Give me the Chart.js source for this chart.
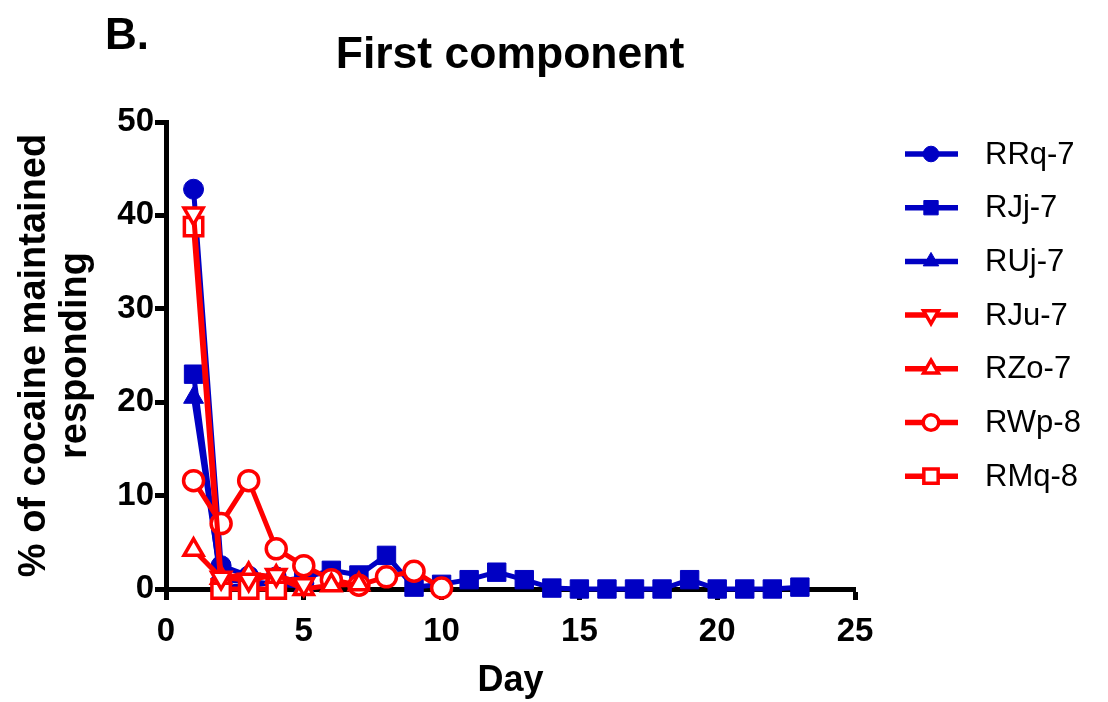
<!DOCTYPE html>
<html>
<head>
<meta charset="utf-8">
<script src="https://cdn.jsdelivr.net/npm/chart.js@4/dist/chart.umd.min.js"></script>
<style>
  html, body { margin: 0; padding: 0; background: #fff; }
  #wrap { width: 1108px; height: 702px; }
</style>
</head>
<body>
<div id="wrap"><canvas id="chart" width="1108" height="702"></canvas></div>
<script>
// 每只动物每天的可卡因维持反应百分比
const labels = ["RRq-7", "RJj-7", "RUj-7", "RJu-7", "RZo-7", "RWp-8", "RMq-8"];

const daysRRq = [1, 2, 3, 4, 5];
const valsRRq = [42.8, 2.5, 1.4, 1.3, 0.6];

const daysRJj = [1, 2, 3, 4, 5, 6, 7, 8, 9, 10, 11, 12, 13, 14, 15, 16, 17, 18, 19, 20, 21, 22, 23];
const valsRJj = [23.0, 0.3, 0.3, 0.8, 1.2, 2.0, 1.5, 3.6, 0.2, 0.5, 1.0, 1.8, 1.0, 0.1, 0, 0, 0, 0, 1.0, 0, 0, 0, 0.2];

const daysRUj = [1, 2, 3, 4, 5];
const valsRUj = [20.5, 1.0, 0.8, 0.5, 0.3];

const daysRJu = [1, 2, 3, 4, 5];
const valsRJu = [40.2, 1.2, 1.0, 1.5, 0.5];

const daysRZo = [1, 2, 3, 4, 5, 6, 7];
const valsRZo = [4.2, 1.2, 1.6, 1.3, 0, 0.4, 0.5];

const daysRWp = [1, 2, 3, 4, 5, 6, 7, 8, 9, 10];
const valsRWp = [11.6, 7.0, 11.6, 4.3, 2.5, 1.0, 0.4, 1.3, 1.9, 0.1];

const daysRMq = [1, 2, 3, 4];
const valsRMq = [38.8, 0, 0, 0];

const xTicks = [0, 5, 10, 15, 20, 25];
const yTicks = [0, 10, 20, 30, 40, 50];

const BLUE = "rgb(0,0,195)";
const RED = "rgb(255,0,0)";
const FONT = "'Liberation Sans', Arial, sans-serif";

function pts(days, vals){
    return days.map((d, i) => ({x: d, y: vals[i]}));
}

// 实心蓝色 / 空心红色 两组标记
function series(label, days, vals, color, style, radius, open, rotation){
    return {
        label: label,
        data: pts(days, vals),
        borderColor: color,
        backgroundColor: color,
        borderWidth: 5,
        tension: 0,
        pointStyle: style,
        pointRadius: radius,
        pointRotation: rotation || 0,
        pointBackgroundColor: open ? "#fff" : color,
        pointBorderColor: color,
        pointBorderWidth: open ? 3.5 : 1,
        clip: false,
        order: open ? 0 : 1
    };
}

const datasets = [
    series(labels[0], daysRRq, valsRRq, BLUE, "circle", 10, false),
    series(labels[1], daysRJj, valsRJj, BLUE, "rect", 13, false),
    series(labels[2], daysRUj, valsRUj, BLUE, "triangle", 11.5, false),
    series(labels[3], daysRJu, valsRJu, RED, "triangle", 11, true, 180),
    series(labels[4], daysRZo, valsRZo, RED, "triangle", 11, true),
    series(labels[5], daysRWp, valsRWp, RED, "circle", 10, true),
    series(labels[6], daysRMq, valsRMq, RED, "rect", 13, true)
];

// 标题、面板字母和右侧图例（线段 + 标记）
const decorations = {
    id: "decorations",
    afterDraw(chart){
        const ctx = chart.ctx;
        ctx.save();
        ctx.fillStyle = "#000";
        ctx.textBaseline = "alphabetic";
        ctx.textAlign = "left";
        ctx.font = "bold 44px " + FONT;
        ctx.fillText("B.", 105, 49);
        ctx.textAlign = "center";
        ctx.font = "bold 44.5px " + FONT;
        ctx.fillText("First component", 510, 68);

        const x0 = 905, x1 = 958, xm = 931, tx = 985;
        const rowY = 154, rowGap = 53.7;
        chart.data.datasets.forEach((ds, i) => {
            const y = rowY + i * rowGap;
            ctx.strokeStyle = ds.borderColor;
            ctx.lineWidth = 5.5;
            ctx.beginPath();
            ctx.moveTo(x0, y);
            ctx.lineTo(x1, y);
            ctx.stroke();
            ctx.fillStyle = ds.pointBackgroundColor;
            ctx.strokeStyle = ds.pointBorderColor;
            ctx.lineWidth = ds.pointBorderWidth;
            Chart.helpers.drawPoint(ctx, {
                pointStyle: ds.pointStyle,
                rotation: ds.pointRotation,
                radius: ds.pointRadius * 0.78,
                borderWidth: ds.pointBorderWidth
            }, xm, y);
            ctx.fillStyle = "#000";
            ctx.textAlign = "left";
            ctx.textBaseline = "middle";
            ctx.font = "31px " + FONT;
            ctx.fillText(ds.label, tx, y + 1);
        });
        ctx.restore();
    }
};

new Chart(document.getElementById("chart"), {
    type: "line",
    data: { datasets: datasets },
    plugins: [decorations],
    options: {
        responsive: false,
        animation: false,
        events: [],
        layout: { padding: { top: 122, right: 253, left: 0, bottom: 0 } },
        plugins: {
            legend: { display: false },
            tooltip: { enabled: false },
            title: { display: false }
        },
        scales: {
            x: {
                type: "linear",
                min: 0,
                max: 25,
                afterBuildTicks: s => { s.ticks = xTicks.map(v => ({value: v})); },
                afterFit: s => { s.height = 113; },
                border: { color: "#000", width: 5 },
                grid: { drawOnChartArea: false, drawTicks: true, tickLength: 11, tickWidth: 5, color: "#000" },
                ticks: { color: "#000", padding: 12, maxRotation: 0, font: { family: FONT, size: 33, weight: "bold" } },
                title: {
                    display: true,
                    text: "Day",
                    color: "#000",
                    padding: { top: 0, bottom: 0 },
                    font: { family: FONT, size: 36, weight: "bold", lineHeight: 1.15 }
                }
            },
            y: {
                type: "linear",
                min: 0,
                max: 50,
                afterBuildTicks: s => { s.ticks = yTicks.map(v => ({value: v})); },
                afterFit: s => { s.width = 166; },
                border: { color: "#000", width: 5 },
                grid: { drawOnChartArea: false, drawTicks: true, tickLength: 11, tickWidth: 5, color: "#000" },
                ticks: { color: "#000", padding: 1, font: { family: FONT, size: 33, weight: "bold" } },
                title: {
                    display: true,
                    text: ["% of cocaine maintained", "responding"],
                    color: "#000",
                    padding: { top: 14, bottom: 0 },
                    font: { family: FONT, size: 38, weight: "bold", lineHeight: 1.08 }
                }
            }
        }
    }
});
</script>
</body>
</html>
